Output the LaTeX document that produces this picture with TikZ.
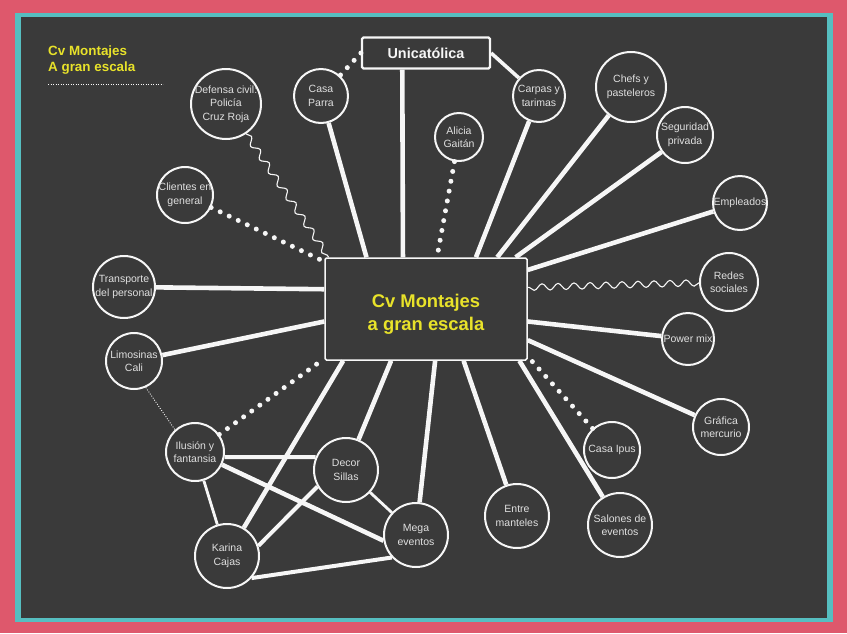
\documentclass[tikz,border=0pt]{standalone}
\usepackage{fontspec}
\setmainfont{Liberation Sans}
\usepackage{tikz}
\usetikzlibrary{decorations.pathmorphing}
\definecolor{boardgray}{RGB}{58,58,58}
\definecolor{framepink}{RGB}{222,88,108}
\definecolor{frameteal}{RGB}{86,190,192}
\definecolor{titleyellow}{RGB}{232,226,42}
\definecolor{inkwhite}{RGB}{246,246,246}
\definecolor{labelgray}{RGB}{224,224,224}
\tikzset{
  bub/.style={circle,draw=inkwhite,line width=2pt,fill=boardgray,minimum size=#1,inner sep=0pt},
  lbl/.style={text=labelgray,align=center,inner sep=0pt,font=\fontsize{10.5}{13.5}\selectfont},
  hubbox/.style={rectangle,rounded corners=1.5pt,draw=inkwhite!85,line width=1.5pt,fill=boardgray,
                 minimum width=202pt,minimum height=102pt},
  hubtext/.style={align=center,inner sep=0pt,text=titleyellow,font=\bfseries\fontsize{18.4}{23}\selectfont},
  unibox/.style={rectangle,rounded corners=1.5pt,draw=inkwhite,line width=2.2pt,fill=boardgray,
                 minimum width=128pt,minimum height=31pt,text=inkwhite,font=\bfseries\fontsize{14.4}{16}\selectfont},
  legend/.style={align=left,inner sep=0pt,text=titleyellow,font=\bfseries\fontsize{13.4}{15.5}\selectfont},
  ln/.style={draw=inkwhite,line width=4.6pt},
  thinln/.style={ln,line width=2.8pt},
  dotln/.style={draw=inkwhite,line width=5pt,line cap=round,dash pattern=on 0pt off 10pt},
  finedots/.style={draw=inkwhite!80,line width=0.9pt,dash pattern=on 0.9pt off 1.6pt},
  wavy/.style={draw=inkwhite,line width=1.1pt,decorate,decoration={snake,amplitude=3.2pt,segment length=16pt}},
}
\begin{document}
\begin{tikzpicture}[x=1pt,y=-1pt]
  \useasboundingbox (0,0) rectangle (847,633);
  % frame
  \fill[framepink] (0,0) rectangle (847,633);
  \fill[frameteal] (15,13) rectangle (833,622);
  \fill[boardgray] (21,17) rectangle (827,618);
  % legend
  \node[legend,anchor=base west] (legend) at (48,71) {Cv Montajes\\A gran escala};
  \coordinate (rule a) at (48,84);
  \coordinate (rule b) at (163,84);
  \draw[finedots] (rule a) -- (rule b);
  % hubs
  \node[hubbox,label={[hubtext,yshift=-5pt]center:{Cv Montajes\\a gran escala}}] (main) at (426,309) {};
  \node[unibox] (uni) at (426,53) {Unicatólica};
  % circles, clockwise from top left
  \node[bub=70,label={[lbl]center:{Defensa civil:\\Policía\\Cruz Roja}}] (defensa) at (226,104) {};
  \node[bub=54,label={[lbl]center:{Casa\\Parra}}] (parra) at (321,96) {};
  \node[bub=48,label={[lbl]center:{Alicia\\Gaitán}}] (alicia) at (459,137) {};
  \node[bub=52,label={[lbl]center:{Carpas y\\tarimas}}] (carpas) at (539,96) {};
  \node[bub=70,label={[lbl]center:{Chefs y\\pasteleros}}] (chefs) at (631,87) {};
  \node[bub=56,label={[lbl]center:{Seguridad\\privada}}] (seguridad) at (685,135) {};
  \node[bub=54,label={[lbl]center:{Empleados}}] (empleados) at (740,203) {};
  \node[bub=58,label={[lbl]center:{Redes\\sociales}}] (redes) at (729,282) {};
  \node[bub=52,label={[lbl]center:{Power mix}}] (power) at (688,339) {};
  \node[bub=56,label={[lbl]center:{Gráfica\\mercurio}}] (grafica) at (721,427) {};
  \node[bub=56,label={[lbl]center:{Casa Ipus}}] (ipus) at (612,450) {};
  \node[bub=64,label={[lbl]center:{Salones de\\eventos}}] (salones) at (620,525) {};
  \node[bub=64,label={[lbl]center:{Entre\\manteles}}] (manteles) at (517,516) {};
  \node[bub=64,label={[lbl]center:{Mega\\eventos}}] (mega) at (416,535) {};
  \node[bub=64,label={[lbl]center:{Decor\\Sillas}}] (decor) at (346,470) {};
  \node[bub=64,label={[lbl]center:{Karina\\Cajas}}] (karina) at (227,556) {};
  \node[bub=58,label={[lbl]center:{Ilusión y\\fantansia}}] (ilusion) at (195,452) {};
  \node[bub=56,label={[lbl]center:{Limosinas\\Cali}}] (limosinas) at (134,361) {};
  \node[bub=62,label={[lbl]center:{Transporte\\del personal}}] (transporte) at (124,287) {};
  \node[bub=56,label={[lbl]center:{Clientes en\\general}}] (clientes) at (185,195) {};
  % links around Unicatólica
  \draw[dotln] (uni.west) -- (parra);
  \draw[ln] (uni.215) -- (main.114);
  \draw[ln,line width=3.6pt] (uni.east) -- (carpas);
  % spokes to the hub
  \draw[ln] (parra) -- (main.139);
  \draw[dotln] (alicia) -- (main.78);
  \draw[ln] (carpas) -- (main.46);
  \draw[ln] (chefs) -- (main.36);
  \draw[ln] (seguridad) -- (main.30);
  \draw[ln] (empleados) -- (main.21);
  \draw[wavy] (redes) -- (main.12);
  \draw[ln] (power) -- (main.353);
  \draw[ln] (grafica) -- (main.343);
  \draw[dotln] (ipus) -- (main.335);
  \draw[ln] (salones) -- (main.331);
  \draw[ln] (manteles) -- (main.306);
  \draw[ln] (mega) -- (main.280);
  \draw[ln] (decor) -- (main.236);
  \draw[ln] (karina) -- (main.212);
  \draw[dotln] (ilusion) -- (main.206);
  \draw[ln] (limosinas) -- (main.187);
  \draw[ln] (transporte) -- (main.169);
  \draw[dotln] (clientes) -- (main.155);
  \draw[wavy] (defensa) -- (main.152);
  % lower cluster
  \draw[finedots] (limosinas.294) -- (ilusion.132);
  \draw[ln,line width=4pt] (ilusion.350) -- (decor.157);
  \draw[ln] (ilusion) -- (mega.190);
  \draw[thinln] (ilusion) -- (karina);
  \draw[ln,line width=4pt] (karina.18) -- (decor.210);
  \draw[ln,line width=4pt] (karina.318) -- (mega.223);
  \draw[thinln] (decor) -- (mega);
\end{tikzpicture}
\end{document}
